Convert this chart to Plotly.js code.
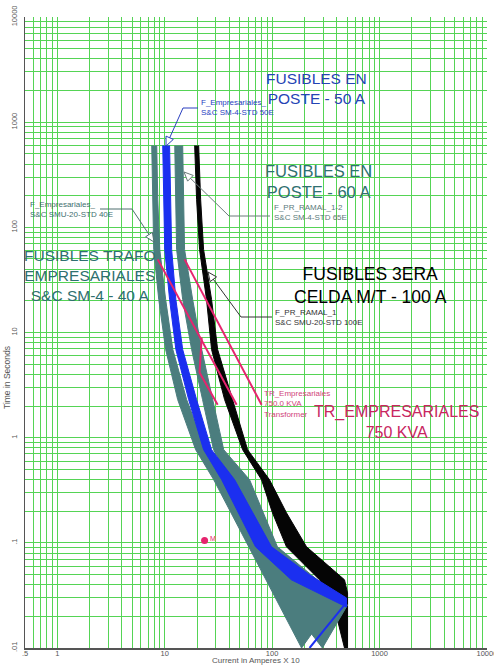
<!DOCTYPE html>
<html><head><meta charset="utf-8">
<script src="https://cdn.plot.ly/plotly-3.0.1.min.js"></script>
<style>html,body{margin:0;padding:0;background:#fff;}#chart{width:494px;height:666px;}</style>
</head><body><div id="chart"></div>
<script>
// ---- Data: current (Amperes x 10) and time (seconds) ----
// F_PR_RAMAL_1  S&C SMU-20-STD 100E (black band)
const blackMinI = [19.0, 19.8, 21.1, 24.5, 27.3, 36.1, 53.1, 79.7, 100.8, 136, 276, 365, 472];
const blackMinT = [600, 185, 61.7, 20.6, 6.89, 2.30, 0.769, 0.398, 0.193, 0.0917, 0.0445, 0.0286, 0.01];
const blackClrI = [20.7, 21.6, 23.0, 27.3, 31.1, 42.8, 59.1, 94.6, 136, 209, 472, 504, 504];
const blackClrT = [600, 185, 61.7, 20.6, 6.89, 2.30, 0.769, 0.398, 0.193, 0.0917, 0.0445, 0.0334, 0.01];
// F_Empresariales S&C SMU-20-STD 40E (teal, left band)
const tealLMinI = [7.57, 7.73, 7.9, 8.8, 10.2, 13.2, 19.4, 28.6];
const tealLClrI = [8.43, 8.61, 8.99, 10.2, 11.9, 16.0, 24.0, 33.9];
const tealLT    = [600, 185, 61.7, 20.6, 6.89, 2.30, 0.769, 0.398];
// F_PR_RAMAL_1-2 S&C SM-4-STD 65E (teal, right band)
const tealRMinI = [12.4, 12.7, 12.9, 14.7, 17.8, 22.5, 28.5, 40.0];
const tealRClrI = [14.7, 15.0, 15.3, 18.2, 22.1, 27.9, 35.4, 61.7];
const tealRT    = [600, 185, 61.7, 20.6, 6.89, 2.30, 0.769, 0.398];
// teal fan at high currents (both teal fuses)
const tealFanI = [28.6, 61, 188, 233, 294, 504, 265, 112, 61.7];
const tealFanT = [0.398, 0.0917, 0.01, 0.0136, 0.01, 0.0257, 0.0445, 0.0917, 0.398];
// F_Empresariales S&C SM-4-STD 50E (blue band)
const blueMinI = [9.58, 9.79, 10.0, 11.1, 12.7, 16.7, 23.0, 33.9, 70.1, 151, 493];
const blueMinT = [600, 185, 61.7, 20.6, 6.89, 2.30, 0.769, 0.398, 0.0917, 0.0445, 0.0245];
const blueClrI = [11.1, 11.4, 11.6, 12.7, 14.7, 19.8, 27.3, 44.8, 98.7, 223, 493];
const blueClrT = [600, 185, 61.7, 20.6, 6.89, 2.30, 0.769, 0.398, 0.0917, 0.0496, 0.0299];
const blueTailI = [223, 472];
const blueTailT = [0.01, 0.0257];
// TR_Empresariales 750 kVA damage curve
const trAI = [8.61, 46.7],  trAT = [49.6, 2.06];
const trBI = [15.3, 79.7],  trBT = [49.6, 2.06];
const trDogI = [22.1, 21.1, 31.1], trDogT = [8.96, 4.16, 2.06];
const inrushI = [23.5], inrushT = [0.105];
// ticks
const xTickVals = [0.5, 1, 10, 100, 1000, 10000];
const xTickText = ['.5', '1', '10', '100', '1000', '10000'];
const yTickVals = [0.01, 0.1, 1, 10, 100, 1000, 10000];
const yTickText = ['.01', '.1', '1', '10', '100', '1000', '10000'];

// ---- helpers ----
function band(minI, minT, clrI, clrT) {
  return { x: minI.concat(clrI.slice().reverse()), y: minT.concat(clrT.slice().reverse()) };
}
function gridVals(lo, hi, start) {
  const v = [];
  for (let d = lo; d <= hi; d++) for (let m = 1; m <= 9; m++) {
    const val = m * Math.pow(10, d);
    if (val >= start - 1e-9 && val <= Math.pow(10, hi) + 1e-9) v.push(val);
  }
  return v;
}
function axisTicks(vals, labVals, labText) {
  const txt = vals.map(v => { const i = labVals.findIndex(l => Math.abs(l - v) / v < 1e-6); return i >= 0 ? labText[i] : ''; });
  return { tickvals: vals, ticktext: txt };
}
// plot box in pixels (for placing text/leaders)
const L = 25, R = 487, T = 17, B = 648;
const px = x => (x - L) / (R - L);
const py = y => (B - y) / (B - T);

const BLACK = '#050505', TEAL = '#4b7d7e', BLUE = '#1b2ff0', PINK = '#e6246e';
const traces = [];
function poly(b, color) {
  traces.push({ type: 'scatter', mode: 'lines', x: b.x, y: b.y, fill: 'toself', fillcolor: color,
    line: { color: color, width: 1 }, hoverinfo: 'skip', showlegend: false });
}
poly(band(blackMinI, blackMinT, blackClrI, blackClrT), BLACK);
poly(band(tealLMinI, tealLT, tealLClrI, tealLT), TEAL);
poly(band(tealRMinI, tealRT, tealRClrI, tealRT), TEAL);
poly({ x: tealFanI, y: tealFanT }, TEAL);
poly(band(blueMinI, blueMinT, blueClrI, blueClrT), BLUE);
traces.push({ type: 'scatter', mode: 'lines', x: blueTailI, y: blueTailT, line: { color: BLUE, width: 2 }, showlegend: false });
[[trAI, trAT], [trBI, trBT], [trDogI, trDogT]].forEach(s => traces.push({
  type: 'scatter', mode: 'lines', x: s[0], y: s[1], line: { color: PINK, width: 2 }, showlegend: false }));
traces.push({ type: 'scatter', mode: 'markers', x: inrushI, y: inrushT,
  marker: { color: PINK, size: 7 }, showlegend: false });

// ---- annotations ----
const ann = [];
function txt(text, x, y, size, color, xanchor, extra) {
  ann.push(Object.assign({ text: text, xref: 'paper', yref: 'paper', x: px(x), y: py(y), xanchor: xanchor || 'center',
    yanchor: 'middle', showarrow: false, align: xanchor === 'left' ? 'left' : 'center',
    font: { family: 'Liberation Sans, Arial, sans-serif', size: size, color: color } }, extra || {}));
}
txt('FUSIBLES EN<br>POSTE - 50 A', 316, 89, 15.5, '#2444b4');
txt('FUSIBLES EN<br>POSTE - 60 A', 318, 181, 16.5, '#2f7070');
txt('FUSIBLES TRAFO<br>EMPRESARIALES<br>S&C SM-4 - 40 A', 90, 275, 15.5, '#2f7070');
txt('FUSIBLES 3ERA<br>CELDA M/T - 100 A', 370, 285, 17.5, '#000000');
txt('TR_EMPRESARIALES<br>750 KVA', 396, 422, 16, '#c8265f');
txt('F_Empresariales_<br>S&C SM-4-STD 50E', 199, 107, 8, '#2a3fbf', 'left');
txt('F_Empresariales_<br>S&C SMU-20-STD 40E', 28, 210, 8, '#3f6f6f', 'left');
txt('F_PR_RAMAL_1-2<br>S&C SM-4-STD 65E', 272, 212, 8, '#5b7b7b', 'left');
txt('F_PR_RAMAL_1<br>S&C SMU-20-STD 100E', 273, 317, 8, '#333333', 'left');
txt('TR_Empresariales<br>750.0 KVA<br>Transformer', 262, 404, 8, '#d0457a', 'left');
txt('M', 208, 538, 7, PINK, 'left');
txt('Current in Amperes X 10', 256, 660.5, 8, '#555555');
txt('Time in Seconds', 7, 378, 8.5, '#555555', 'center', { textangle: -90 });

// leader lines with open arrowheads
const shapes = [];
function seg(x0, y0, x1, y1, color) {
  shapes.push({ type: 'line', xref: 'paper', yref: 'paper', x0: px(x0), y0: py(y0), x1: px(x1), y1: py(y1),
    line: { color: color, width: 1 } });
}
function arrowHead(ex, ey, tx, ty, color) {
  const dx = tx - ex, dy = ty - ey, len = Math.hypot(dx, dy), ux = dx / len, uy = dy / len;
  const s = 9, w = 4;
  const bx = tx - ux * s, by = ty - uy * s;
  const p1 = [bx - uy * w, by + ux * w], p2 = [bx + uy * w, by - ux * w];
  shapes.push({ type: 'path', xref: 'paper', yref: 'paper',
    path: `M ${px(tx)},${py(ty)} L ${px(p1[0])},${py(p1[1])} L ${px(p2[0])},${py(p2[1])} Z`,
    fillcolor: '#ffffff', line: { color: color, width: 1 } });
}
function leader(textX, textY, elbowX, tipX, tipY, color) {
  seg(textX, textY, elbowX, textY, color);
  seg(elbowX, textY, tipX, tipY, color);
  arrowHead(elbowX, textY, tipX, tipY, color);
}
leader(198, 108, 183, 166, 146, '#2a3fbf');
leader(100, 209, 132, 154, 242, '#4f6f6f');
leader(270, 216, 229, 184, 172, '#6b7b7b');
leader(272, 317, 241, 208, 272, '#333333');

const xt = axisTicks(gridVals(-1, 4, 0.5), xTickVals, xTickText);
const yt = axisTicks(gridVals(-2, 4, 0.01), yTickVals, yTickText);
const GRID = '#55d455';
const layout = {
  width: 494, height: 666,
  margin: { l: L, r: 494 - R, t: T, b: 666 - B },
  paper_bgcolor: '#ffffff', plot_bgcolor: '#ffffff',
  showlegend: false,
  xaxis: { type: 'log', range: [Math.log10(0.5), 4.0008], tickmode: 'array', tickvals: xt.tickvals, ticktext: xt.ticktext,
    showgrid: true, gridcolor: GRID, gridwidth: 1, zeroline: false, ticks: '', showline: true, linecolor: '#555555', linewidth: 1.5,
    ticklabeloverflow: 'allow',
    tickfont: { family: 'Liberation Sans, Arial, sans-serif', size: 7.5, color: '#555555' }, ticklabelstandoff: -3 },
  yaxis: { type: 'log', range: [-2, 4], tickmode: 'array', tickvals: yt.tickvals, ticktext: yt.ticktext,
    showgrid: true, gridcolor: GRID, gridwidth: 1, zeroline: false, ticks: '', showline: true, linecolor: '#555555', linewidth: 1.5,
    ticklabeloverflow: 'allow',
    tickangle: -90, ticklabelstandoff: 4, tickfont: { family: 'Liberation Sans, Arial, sans-serif', size: 7.5, color: '#555555' } },
  annotations: ann,
  shapes: shapes
};
Plotly.newPlot('chart', traces, layout, { staticPlot: true, displayModeBar: false });
</script>
</body></html>
